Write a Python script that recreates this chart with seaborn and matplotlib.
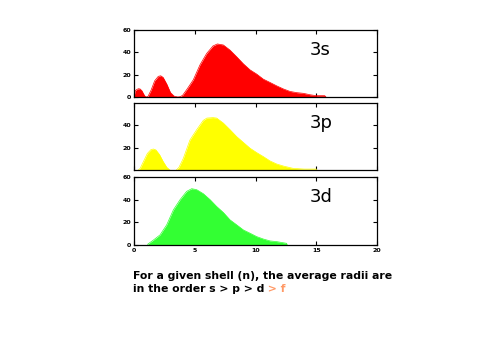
import matplotlib
matplotlib.use("Agg")
import matplotlib.pyplot as plt
import seaborn as sns
import numpy as np
import pandas as pd

sns.set_style("white")
plt.rcParams['font.family'] = ['DejaVu Sans']
plt.rcParams['text.color'] = 'black'
plt.rcParams['xtick.color'] = 'black'
plt.rcParams['ytick.color'] = 'black'

# 3s radial distribution
r_3s = [0.0, 0.1, 0.2, 0.35, 0.5, 0.65, 0.8, 0.9, 1.0, 1.15, 1.4, 1.7, 2.0, 2.2, 2.4, 2.7, 3.0, 3.3, 3.6, 3.8, 4.0,
        4.33, 4.88, 5.43, 5.98, 6.5, 6.86, 7.35, 7.9, 8.45, 9.0, 9.55, 10.1, 10.64, 11.2, 11.74, 12.3,
        12.84, 13.4, 13.94, 14.5, 15.0, 15.7, 15.8]
v_3s = [0.0, 5.6, 6.5, 7.4, 7.2, 5.6, 2.5, 0.8, 0.0, 0.5, 6.0, 14.5, 18.5, 19.0, 17.5, 11.5, 4.0, 0.8, 0.0, 0.3, 1.5,
        6.5, 15.4, 28.8, 39.0, 45.7, 47.5, 46.6, 42.0, 36.0, 29.7, 24.3, 20.5, 16.0, 13.0, 10.0, 7.2,
        5.0, 3.9, 3.3, 2.0, 1.2, 1.2, 0.0]

# 3p radial distribution
r_3p = [0.22, 0.5, 0.8, 1.1, 1.4, 1.6, 1.8, 2.1, 2.4, 2.7, 3.0, 3.1, 3.37, 3.7, 4.06, 4.6, 5.16, 5.7, 6.0, 6.5,
        6.8, 7.35, 7.9, 8.45, 9.0, 9.55, 10.1, 10.64, 11.2, 11.74, 12.3, 13.1, 14.0, 15.0, 15.05]
v_3p = [0.0, 2.5, 9.0, 15.5, 18.8, 19.3, 18.5, 14.5, 8.5, 3.5, 0.8, 0.0, 0.0, 3.5, 11.3, 27.0, 36.0, 44.0, 46.0, 46.4,
        46.0, 41.7, 36.0, 30.0, 25.0, 20.0, 16.2, 12.8, 9.0, 6.4, 4.6, 2.6, 2.0, 2.0, 0.0]

# 3d radial distribution
r_3d = [1.1, 1.6, 2.14, 2.69, 3.24, 3.79, 4.33, 4.75, 5.16, 5.7, 6.26, 6.8, 7.35, 7.9, 8.45, 9.0, 9.55,
        10.1, 10.64, 11.2, 11.74, 12.56, 12.6]
v_3d = [0.5, 4.4, 8.9, 17.8, 31.0, 40.0, 47.3, 49.7, 48.8, 45.3, 40.0, 34.0, 28.7, 22.2, 17.8, 13.3, 10.4,
        7.4, 5.3, 3.6, 3.0, 1.5, 0.0]

labels = ["3s", "3p", "3d"]
colors = ["#ff0000", "#ffff00", "#33ff33"]
x_ticks = [0, 5, 10, 15, 20]

caption1 = "For a given shell (n), the average radii are"
caption2a = "in the order s > p > d"
caption2b = " > f"

fig = plt.figure(figsize=(4.8, 3.6), dpi=100)
fig.patch.set_facecolor("white")

W, H = 480, 360
boxes = [(30, 97), (103, 170), (177, 245)]
series = [(r_3s, v_3s), (r_3p, v_3p), (r_3d, v_3d)]
ylims = [(0, 60), (1.2, 59), (0, 60)]
yticks = [[0, 20, 40, 60], [20, 40], [0, 20, 40, 60]]

for i, ((top, bot), (r, v)) in enumerate(zip(boxes, series)):
    ax = fig.add_axes([134 / W, 1 - bot / H, (377 - 134) / W, (bot - top) / H])
    df = pd.DataFrame({"r": r, "v": v})
    sns.lineplot(data=df, x="r", y="v", ax=ax, color=colors[i], linewidth=0.5)
    ax.fill_between(df["r"], df["v"], 0, color=colors[i], linewidth=0)
    ax.set_xlim(0, 20)
    ax.set_ylim(*ylims[i])
    ax.set_xlabel("")
    ax.set_ylabel("")
    ax.set_xticks(x_ticks)
    ax.set_yticks(yticks[i])
    ax.set_yticklabels([str(t) for t in yticks[i]], fontsize=4.5, fontweight="bold")
    if i == 2:
        ax.set_xticklabels([str(t) for t in x_ticks], fontsize=4.5, fontweight="bold")
    else:
        ax.set_xticklabels([])
    ax.tick_params(direction="in", length=3, width=0.8, top=True, right=True, pad=2,
                   bottom=True, left=True)
    for s in ax.spines.values():
        s.set_color("black")
        s.set_linewidth(0.9)
        s.set_visible(True)
    ax.text(14.5, 0.70, labels[i], transform=ax.get_xaxis_transform(), fontsize=13,
            ha="left", va="center", color="black")

fs = 7.8
fig.text(133 / W, 1 - 279 / H, caption1, fontsize=fs, fontweight="bold", ha="left", va="baseline", color="black")
t = fig.text(133 / W, 1 - 292 / H, caption2a, fontsize=fs, fontweight="bold", ha="left", va="baseline", color="black")
fig.canvas.draw()
bb = t.get_window_extent()
fig.text(bb.x1 / W, 1 - 292 / H, caption2b, fontsize=fs, fontweight="bold", ha="left",
         va="baseline", color="#ff9966")

fig.savefig("out.png", dpi=100, facecolor="white")
